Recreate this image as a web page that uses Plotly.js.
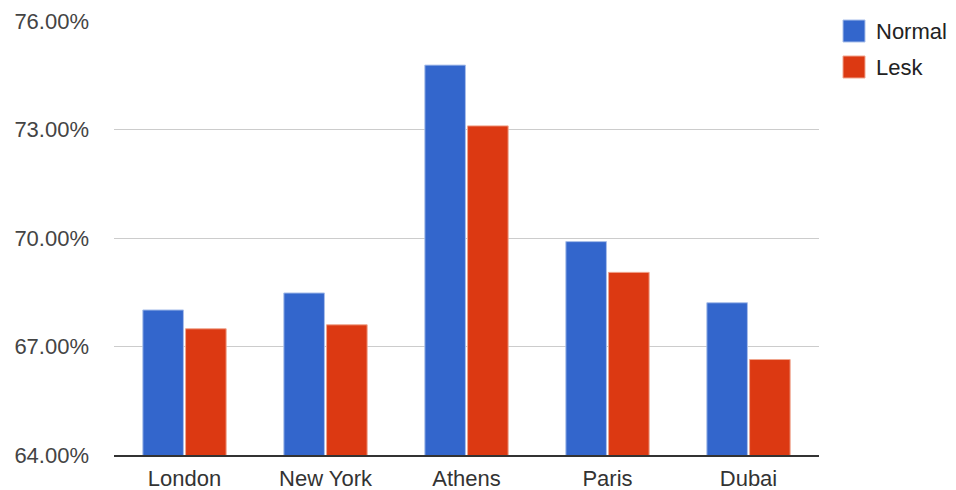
<!DOCTYPE html>
<html>
<head>
<meta charset="utf-8">
<script src="https://cdn.plot.ly/plotly-3.0.1.min.js"></script>
<style>html,body{margin:0;padding:0;background:#fff}#chart{width:956px;height:490px}</style>
</head>
<body>
<div id="chart"></div>
<script>
const categories = ["London", "New York", "Athens", "Paris", "Dubai"];
const normalValues = [68.01, 68.48, 74.78, 69.90, 68.21];
const leskValues = [67.49, 67.60, 73.10, 69.05, 66.64];
const seriesNames = ["Normal", "Lesk"];
const seriesColors = ["#3366cc", "#dc3912"];
const seriesBorders = ["#a9bfea", "#f0a58e"];
const yTicks = [64, 67, 70, 73, 76];

const FONT = "Arial, 'Liberation Sans', sans-serif";

const traces = [normalValues, leskValues].map((vals, i) => ({
  type: "bar",
  x: categories,
  y: vals,
  name: seriesNames[i],
  marker: { color: seriesColors[i], line: { color: seriesBorders[i], width: 1 } },
  showlegend: false,
  hoverinfo: "x+y"
}));

const shapes = [];
const annotations = [];
seriesNames.forEach((n, i) => {
  const yc = 31 + i * 36;
  shapes.push({
    type: "rect", xref: "paper", yref: "paper",
    x0: (843 - 114) / 705, x1: (865 - 114) / 705,
    y0: (490 - 35 - (yc + 11)) / 434, y1: (490 - 35 - (yc - 11)) / 434,
    fillcolor: seriesColors[i], line: { color: seriesBorders[i], width: 1 }
  });
  annotations.push({
    xref: "paper", yref: "paper",
    x: (874 - 114) / 705, y: (490 - 35 - yc) / 434,
    xanchor: "left", yanchor: "middle", showarrow: false,
    text: n, font: { family: FONT, size: 22, color: "#222" }
  });
});

const layout = {
  width: 956, height: 490,
  margin: { l: 114, r: 137, t: 21, b: 35, pad: 0 },
  paper_bgcolor: "#fff", plot_bgcolor: "#fff",
  barmode: "group", bargap: 0.394, bargroupgap: 0.05,
  font: { family: FONT, size: 22, color: "#222" },
  xaxis: {
    type: "category",
    showline: true, linecolor: "#333", linewidth: 2,
    showgrid: false, ticks: "", ticklabelstandoff: 3,
    tickfont: { family: FONT, size: 22, color: "#333" },
    fixedrange: true
  },
  yaxis: {
    range: [64, 76], tickvals: yTicks,
    ticktext: yTicks.map(v => v.toFixed(2) + "%"),
    showgrid: true, gridcolor: "#cccccc", gridwidth: 1,
    zeroline: false, showline: false, ticks: "",
    ticklabelstandoff: 24,
    tickfont: { family: FONT, size: 22, color: "#444" },
    fixedrange: true
  },
  shapes: shapes,
  annotations: annotations,
  showlegend: false
};

Plotly.newPlot("chart", traces, layout, { displayModeBar: false, staticPlot: true });
</script>
</body>
</html>
